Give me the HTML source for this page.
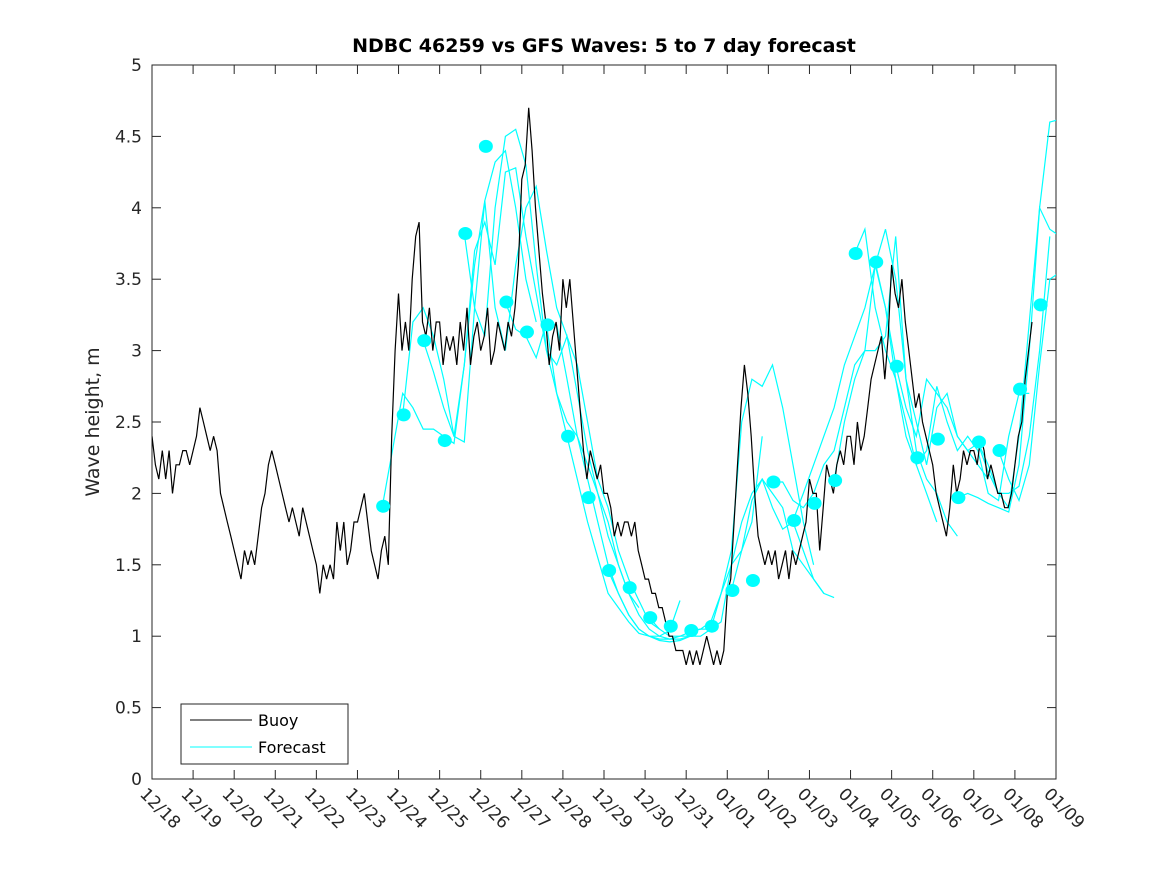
<!DOCTYPE html>
<html><head><meta charset="utf-8"><style>
body{margin:0;background:#fff;}
svg{display:block;font-family:"DejaVu Sans","Liberation Sans",sans-serif;}
</style></head><body>
<svg id="chart" width="1167" height="875" viewBox="0 0 1167 875" xmlns="http://www.w3.org/2000/svg">
<defs><clipPath id="plotclip"><rect x="152" y="65" width="904" height="714"/></clipPath></defs>
<rect x="0" y="0" width="1167" height="875" fill="#fff"/>
<text x="604" y="52" text-anchor="middle" font-size="19" font-weight="bold" fill="#000">NDBC 46259 vs GFS Waves: 5 to 7 day forecast</text>
<text transform="translate(99,422) rotate(-90)" text-anchor="middle" font-size="19" fill="#262626">Wave height, m</text>
<rect x="152" y="65" width="904" height="714" fill="#fff" stroke="#262626" stroke-width="1"/>
<g id="grid"></g>
<g clip-path="url(#plotclip)">
<g id="forecast"></g>
<g id="buoy"></g>
<g id="dots"></g>
</g>
<g>
<rect x="181" y="704" width="167" height="60" fill="#fff" stroke="#262626" stroke-width="1"/>
<line x1="190" y1="720" x2="252" y2="720" stroke="#000" stroke-width="1"/>
<text x="258" y="726" font-size="16" fill="#000">Buoy</text>
<line x1="190" y1="747" x2="252" y2="747" stroke="#00ffff" stroke-width="1"/>
<text x="258" y="753" font-size="16" fill="#000">Forecast</text>
</g>
</svg>
<script>
const xTickLabels=["12/18","12/19","12/20","12/21","12/22","12/23","12/24","12/25","12/26","12/27","12/28","12/29","12/30","12/31","01/01","01/02","01/03","01/04","01/05","01/06","01/07","01/08","01/09"];
const yTicks=[0,0.5,1,1.5,2,2.5,3,3.5,4,4.5,5];
const buoyStep=1/12;
const buoyValues=[
2.4,2.2,2.1,2.3,2.1,2.3,2.0,2.2,2.2,2.3,2.3,2.2,
2.3,2.4,2.6,2.5,2.4,2.3,2.4,2.3,2.0,1.9,1.8,1.7,
1.6,1.5,1.4,1.6,1.5,1.6,1.5,1.7,1.9,2.0,2.2,2.3,
2.2,2.1,2.0,1.9,1.8,1.9,1.8,1.7,1.9,1.8,1.7,1.6,
1.5,1.3,1.5,1.4,1.5,1.4,1.8,1.6,1.8,1.5,1.6,1.8,
1.8,1.9,2.0,1.8,1.6,1.5,1.4,1.6,1.7,1.5,2.4,3.0,
3.4,3.0,3.2,3.0,3.5,3.8,3.9,3.2,3.1,3.3,3.0,3.2,
3.2,2.9,3.1,3.0,3.1,2.9,3.2,3.0,3.3,2.9,3.1,3.2,
3.0,3.1,3.3,2.9,3.0,3.2,3.1,3.0,3.2,3.1,3.3,3.6,
4.2,4.3,4.7,4.4,4.0,3.7,3.4,3.2,2.9,3.1,3.2,3.0,
3.5,3.3,3.5,3.2,2.9,2.6,2.3,2.1,2.3,2.2,2.1,2.2,
2.0,2.0,1.9,1.7,1.8,1.7,1.8,1.8,1.7,1.8,1.6,1.5,
1.4,1.4,1.3,1.3,1.2,1.2,1.1,1.0,1.0,0.9,0.9,0.9,
0.8,0.9,0.8,0.9,0.8,0.9,1.0,0.9,0.8,0.9,0.8,0.9,
1.3,1.4,1.8,2.2,2.6,2.9,2.7,2.4,2.0,1.7,1.6,1.5,
1.6,1.5,1.6,1.4,1.5,1.6,1.4,1.6,1.5,1.6,1.7,1.8,
2.1,2.0,2.0,1.6,1.9,2.2,2.1,2.0,2.2,2.3,2.2,2.4,
2.4,2.2,2.5,2.3,2.4,2.6,2.8,2.9,3.0,3.1,2.8,3.1,
3.6,3.4,3.3,3.5,3.2,3.0,2.8,2.6,2.7,2.5,2.4,2.3,
2.2,2.0,1.9,1.8,1.7,1.9,2.2,2.0,2.1,2.3,2.2,2.3,
2.3,2.2,2.4,2.3,2.1,2.2,2.1,2.0,2.0,1.9,1.9,2.0,
2.2,2.4,2.5,2.8,3.0,3.2];
const dotDays=[5.625,6.125,6.625,7.125,7.625,8.125,8.625,9.125,9.625,10.125,10.625,11.125,11.625,12.125,12.625,13.125,13.625,14.125,14.625,15.125,15.625,16.125,16.625,17.125,17.625,18.125,18.625,19.125,19.625,20.125,20.625,21.125,21.625];
const dotValues=[1.91,2.55,3.07,2.37,3.82,4.43,3.34,3.13,3.18,2.40,1.97,1.46,1.34,1.13,1.07,1.04,1.07,1.32,1.39,2.08,1.81,1.93,2.09,3.68,3.62,2.89,2.25,2.38,1.97,2.36,2.30,2.73,3.32];
const forecastStep=0.25;
const forecastStarts=[5.6,6.1,6.6,7.6,8.6,9.6,11.1,12.1,13.1,14.1,15.1,15.6,16.6,17.1,17.6,19.6,20.1,20.6];
const forecastRuns=[
[1.9,2.3,2.7,2.6,2.45,2.45,2.4,2.35,2.9,3.6,4.05,4.32,4.4,4.0,3.5,3.2],
[2.55,3.2,3.3,3.1,2.8,2.4,2.9,3.7,3.9,3.6,4.25,4.28,3.8,3.4,3.0,2.9,3.1,2.7,2.3,2.0,1.7,1.5,1.3,1.2],
[3.07,2.85,2.6,2.4,2.36,3.3,4.05,3.3,3.0,3.6,4.0,4.15,3.7,3.3,3.1,2.9,2.5,2.1,1.9,1.6,1.4,1.25,1.1,1.05],
[3.82,3.3,3.1,4.0,4.5,4.55,4.3,3.6,3.0,2.7,2.5,2.4,2.2,2.0,1.8,1.5,1.3,1.15,1.05,1.0,0.98,0.98,1.0],
[3.34,3.15,3.1,2.95,3.2,3.18,2.8,2.4,2.1,1.8,1.5,1.3,1.15,1.05,1.0,0.98,0.98,1.0,1.0],
[3.18,2.7,2.4,2.1,1.8,1.55,1.3,1.2,1.1,1.02,1.0,1.0,1.04,1.25],
[1.46,1.3,1.15,1.05,1.0,0.97,0.96,0.97,1.0,1.0,1.05,1.3,1.5,1.6,1.8,2.4],
[1.13,1.05,1.0,1.0,1.03,1.05,1.1,1.3,1.6,2.5,2.8,2.75,2.9,2.6,2.2,1.8,1.5],
[1.04,1.05,1.05,1.1,1.5,1.8,2.0,2.1,1.9,1.75,1.8,1.6,1.4,1.3],
[1.32,1.6,1.95,2.1,2.0,1.9,1.6,1.5,1.4,1.3,1.27],
[2.08,2.08,1.95,1.9,2.0,2.2,2.3,2.6,2.9,3.0,3.0,3.1,3.8,2.8,2.3,2.1,2.0,1.8,1.7],
[1.81,2.0,2.2,2.4,2.6,2.9,3.1,3.3,3.6,3.3,2.8,2.5,2.2,2.0,1.8],
[2.09,2.5,2.8,3.0,3.6,3.85,3.5,2.8,2.5,2.2,2.6,2.7,2.4,2.3,2.2,2.1],
[3.68,3.85,3.3,3.0,2.8,2.4,2.2,2.3,2.75,2.5,2.3,2.4,2.3,2.0,1.95,2.4,2.7,2.7],
[3.62,3.3,2.9,2.6,2.4,2.8,2.7,2.6,2.4,2.3,2.35,2.15,2.0,2.0,2.05,2.4,3.0,3.8],
[1.97,2.0,1.97,1.93,1.9,1.87,2.2,3.0,4.0,4.6,4.62,4.45,4.4],
[2.36,2.2,2.0,1.9,2.4,3.2,4.0,3.85,3.8],
[2.30,2.1,1.95,2.2,2.9,3.5,3.55,3.5]];

const NS="http://www.w3.org/2000/svg";
const X0=152,X1=1056,Y0=779,Y1=65,DAYS=22,YMAX=5;
function xs(d){return X0+(X1-X0)*d/DAYS;}
function ys(v){return Y0-(Y0-Y1)*v/YMAX;}
function mk(tag,attrs,parent){const e=document.createElementNS(NS,tag);for(const k in attrs)e.setAttribute(k,attrs[k]);parent.appendChild(e);return e;}
const grid=document.getElementById('grid');
yTicks.forEach(v=>{
  const y=ys(v);
  const t1=mk('line',{x1:X0,y1:y,x2:X0+9,y2:y,stroke:'#262626'},grid);
  
  
  mk('line',{x1:X1-9,y1:y,x2:X1,y2:y,stroke:'#262626'},grid);
  const t=mk('text',{x:X0-10,y:y+6,'text-anchor':'end','font-size':17,fill:'#262626'},grid);
  t.textContent=String(v);
  
  
});
xTickLabels.forEach((lab,i)=>{
  const x=xs(i);
  const tk=mk('line',{x1:x,y1:Y0,x2:x,y2:Y0-9,stroke:'#262626'},grid);
  
  
  mk('line',{x1:x,y1:Y1,x2:x,y2:Y1+9,stroke:'#262626'},grid);
  const t=mk('text',{x:0,y:0,transform:`translate(${x-13},${Y0+16}) rotate(45)`,'font-size':17,fill:'#262626'},grid);
  t.textContent=lab;
  
  
});
const fg=document.getElementById('forecast');
forecastRuns.forEach((run,r)=>{
  const pts=run.map((v,i)=>xs(forecastStarts[r]+i*forecastStep).toFixed(1)+','+ys(v).toFixed(1)).join(' ');
  const p=mk('polyline',{points:pts,fill:'none',stroke:'#00ffff','stroke-width':1.2},fg);
  
  
});
const bg=document.getElementById('buoy');
const bpts=buoyValues.map((v,i)=>xs(i*buoyStep).toFixed(1)+','+ys(v).toFixed(1)).join(' ');
const bl=mk('polyline',{points:bpts,fill:'none',stroke:'#000','stroke-width':1.2},bg);


const dg=document.getElementById('dots');
dotDays.forEach((d,i)=>{
  const c=mk('ellipse',{cx:xs(d),cy:ys(dotValues[i]),rx:7,ry:6.5,fill:'#00ffff'},dg);
  
  
});
</script>
</body></html>
